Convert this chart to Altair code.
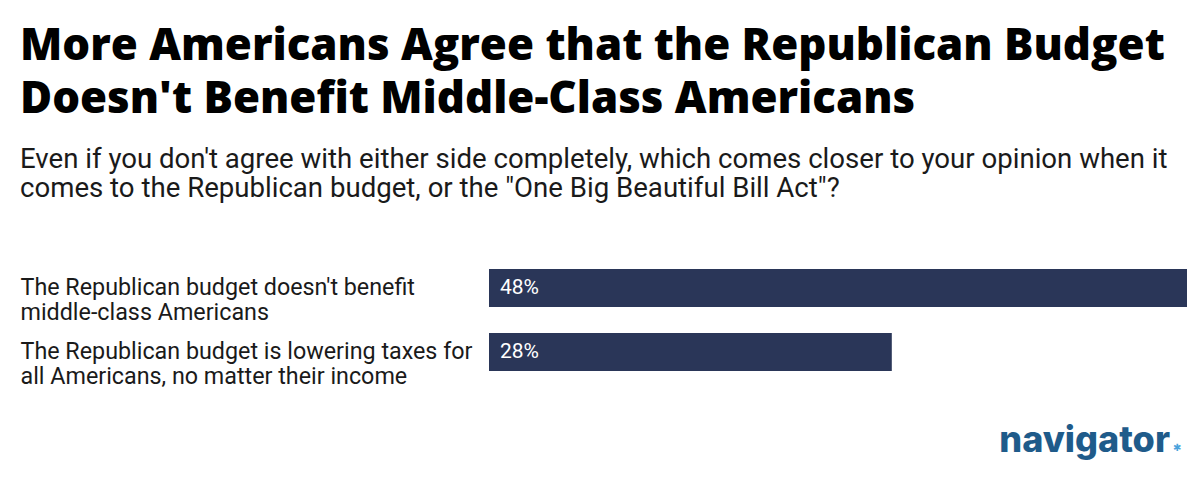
import altair as alt
import pandas as pd

title_lines = ["More Americans Agree that the Republican Budget",
               "Doesn't Benefit Middle-Class Americans"]
subtitle_lines = ["Even if you don't agree with either side completely, which comes closer to your opinion when it",
                  "comes to the Republican budget, or the \"One Big Beautiful Bill Act\"?"]
categories = ["The Republican budget doesn't benefit\nmiddle-class Americans",
              "The Republican budget is lowering taxes for\nall Americans, no matter their income"]
values = [48, 27.7]
value_labels = ["48%", "28%"]

df = pd.DataFrame({"cat": categories, "val": values, "lab": value_labels})

BAR = "#2a3658"

y_enc = alt.Y("cat:N", sort=None, title=None,
              scale=alt.Scale(paddingInner=0.406, paddingOuter=0.203),
              axis=alt.Axis(labelExpr="split(datum.label, '\\n')", labelAlign="left",
                            labelBaseline="middle", labelPadding=469, ticks=False, tickSize=0,
                            domain=False, grid=False, labelFont="Roboto", labelFontSize=23.3,
                            labelLineHeight=25, labelColor="#1a1a1a", labelLimit=0))
x_enc = alt.X("val:Q", scale=alt.Scale(domain=[0, 48], nice=False), axis=None)

bars = alt.Chart(df).mark_bar(color=BAR).encode(x=x_enc, y=y_enc)
labels = alt.Chart(df).mark_text(align="left", baseline="middle", dx=11, color="white",
                                 font="Roboto", fontSize=21).encode(
    x=alt.datum(0), y=alt.Y("cat:N", sort=None), text="lab:N")

logo = alt.Chart(pd.DataFrame({"t": ["navigator"]})).mark_text(
    align="right", baseline="alphabetic", font="Inter", fontWeight=800, fontSize=36,
    color="#1f5b8a").encode(x=alt.value(681), y=alt.value(196), text="t:N")
star = alt.Chart(pd.DataFrame({"t": ["✱"]})).mark_text(
    align="left", baseline="alphabetic", font="DejaVu Sans", fontSize=10,
    color="#4ba3dc").encode(x=alt.value(684), y=alt.value(195), text="t:N")

chart = alt.layer(bars, labels, logo, star).properties(
    width=698, height=128, background="white",
    title=alt.Title(text=title_lines, subtitle=subtitle_lines, anchor="start", frame="group",
                    dx=-469, font="Open Sans", fontWeight=800, fontSize=43.8, lineHeight=53,
                    color="#000000", subtitleFont="Roboto", subtitleFontSize=27.6,
                    subtitleLineHeight=29, subtitleColor="#1a1a1a", subtitlePadding=25,
                    offset=53),
    autosize=alt.AutoSizeParams(type="none"),
    padding={"left": 481, "top": 248, "right": 5, "bottom": 86},
).configure_view(strokeWidth=0, stroke=None)

chart.save("out.html", embed_options={"renderer": "svg", "actions": False})
